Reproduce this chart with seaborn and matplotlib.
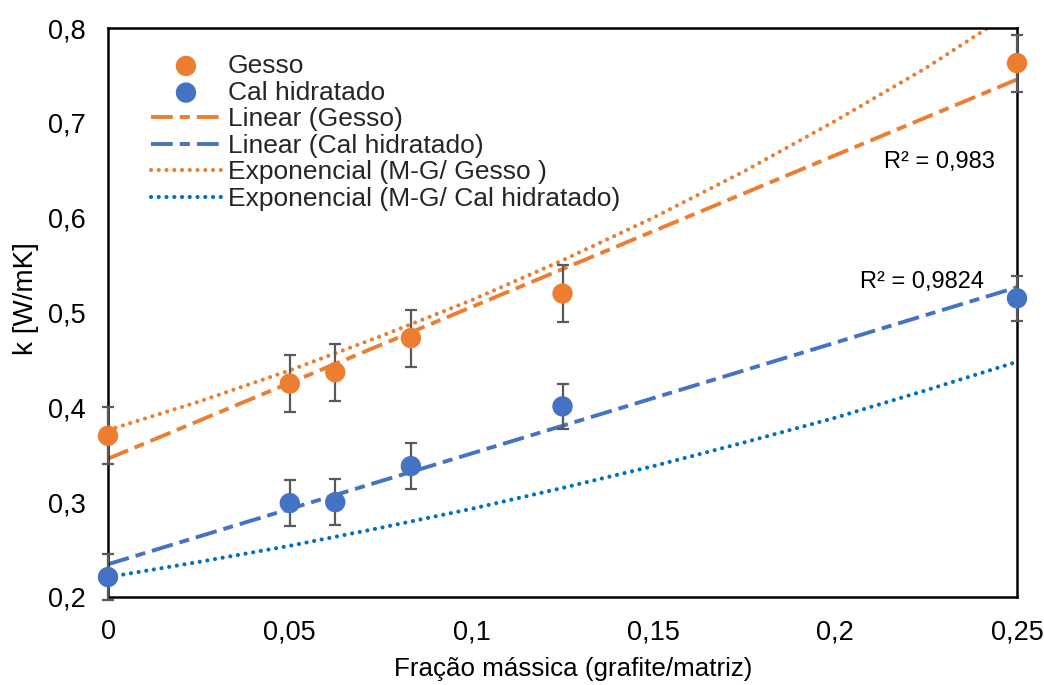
import numpy as np
import pandas as pd
import matplotlib
matplotlib.use("Agg")
import matplotlib.pyplot as plt
import seaborn as sns

# ---------------- data ----------------
frac = [0.0, 0.05, 0.0625, 0.0833, 0.125, 0.25]
k_gesso = [0.370, 0.425, 0.437, 0.473, 0.520, 0.763]
k_cal = [0.221, 0.299, 0.300, 0.338, 0.401, 0.515]
err_gesso = [0.030, 0.030, 0.030, 0.030, 0.030, 0.030]
err_cal = [0.024, 0.024, 0.024, 0.024, 0.024, 0.024]

# Exponential (Maxwell-Garnett) curves
mg_x = [0.0, 0.025, 0.05, 0.075, 0.1, 0.125, 0.15, 0.175, 0.2, 0.225, 0.25]
mg_gesso = [0.376, 0.406, 0.439, 0.475, 0.513, 0.555, 0.600, 0.649, 0.702, 0.758, 0.820]
mg_cal = [0.221, 0.237, 0.254, 0.273, 0.293, 0.315, 0.338, 0.363, 0.389, 0.418, 0.448]

r2_labels = ["R² = 0,983", "R² = 0,9824"]
legend_labels = ["Gesso", "Cal hidratado", "Linear (Gesso)", "Linear (Cal hidratado)",
                 "Exponencial (M-G/ Gesso )", "Exponencial (M-G/ Cal hidratado)"]
xticks = [0, 0.05, 0.1, 0.15, 0.2, 0.25]
xtick_labels = ["0", "0,05", "0,1", "0,15", "0,2", "0,25"]
yticks = [0.2, 0.3, 0.4, 0.5, 0.6, 0.7, 0.8]
ytick_labels = ["0,2", "0,3", "0,4", "0,5", "0,6", "0,7", "0,8"]

ORANGE = "#ED7D31"
BLUE = "#4472C4"
DBLUE = "#0070C0"
GRAY = "#595959"

sns.set_theme(style="white")
plt.rcParams["font.family"] = ["Liberation Sans", "DejaVu Sans"]

fig = plt.figure(figsize=(10.44, 6.85), dpi=100)
ax = fig.add_axes([108 / 1044, 1 - 597 / 685, (1017 - 108) / 1044, (597 - 28) / 685])

df = pd.DataFrame({"x": frac, "gesso": k_gesso, "cal": k_cal})

# linear trendlines (least squares from data)
xl = np.array([0.0, 0.25])
pg = np.polyfit(frac, k_gesso, 1)
pc = np.polyfit(frac, k_cal, 1)
lin_df = pd.DataFrame({"x": xl, "g": np.polyval(pg, xl), "c": np.polyval(pc, xl)})

LW = 2.8
LWD = 3.0
dash_pat = (0, (5.6, 1.8, 2.6, 1.8))
dot_pat = (0, (0.01, 1.85))

sns.lineplot(data=lin_df, x="x", y="g", ax=ax, color=ORANGE, lw=LW, label=legend_labels[2])
sns.lineplot(data=lin_df, x="x", y="c", ax=ax, color=BLUE, lw=LW, label=legend_labels[3])
mg_df = pd.DataFrame({"x": mg_x, "g": mg_gesso, "c": mg_cal})
sns.lineplot(data=mg_df, x="x", y="g", ax=ax, color=ORANGE, lw=LWD, label=legend_labels[4])
sns.lineplot(data=mg_df, x="x", y="c", ax=ax, color=DBLUE, lw=LWD, label=legend_labels[5])
lines = ax.get_lines()
for i, ln in enumerate(lines[:4]):
    if i < 2:
        ln.set_linestyle(dash_pat)
        ln.set_dash_capstyle("butt")
    else:
        ln.set_linestyle(dot_pat)
        ln.set_dash_capstyle("round")

# error bars
ax.errorbar(frac, k_gesso, yerr=err_gesso, fmt="none", ecolor=GRAY, elinewidth=1.6,
            capsize=4.5, capthick=1.6, clip_on=False, zorder=3)
ax.errorbar(frac, k_cal, yerr=err_cal, fmt="none", ecolor=GRAY, elinewidth=1.6,
            capsize=4.5, capthick=1.6, clip_on=False, zorder=3)

sns.scatterplot(data=df, x="x", y="gesso", ax=ax, color=ORANGE, s=215, edgecolor="none",
                label=legend_labels[0], clip_on=False, zorder=4)
sns.scatterplot(data=df, x="x", y="cal", ax=ax, color=BLUE, s=215, edgecolor="none",
                label=legend_labels[1], clip_on=False, zorder=4)

ax.set_xlim(0, 0.25)
ax.set_ylim(0.2, 0.8)
ax.set_xticks(xticks)
ax.set_xticklabels(xtick_labels)
ax.set_yticks(yticks)
ax.set_yticklabels(ytick_labels)
ax.tick_params(axis="both", length=0, labelsize=19.5, colors="black", pad=16)
ax.set_xlabel("Fração mássica (grafite/matriz)", fontsize=18.7, color="black")
ax.set_ylabel("k [W/mK]", fontsize=20, color="black")
ax.xaxis.set_label_coords(0.5116, -0.105)
ax.yaxis.set_label_coords(-0.0760, 0.525)
for sp in ax.spines.values():
    sp.set_visible(True)
    sp.set_color("black")
    sp.set_linewidth(1.8)

ax.text(0.2440, 0.6585, r2_labels[0], fontsize=17, ha="right", va="center", color="black")
ax.text(0.2409, 0.532, r2_labels[1], fontsize=17, ha="right", va="center", color="black")

handles, labels = ax.get_legend_handles_labels()
order = [labels.index(l) for l in legend_labels]
leg = ax.legend([handles[i] for i in order], [labels[i] for i in order],
                loc="upper left", bbox_to_anchor=(0.0473, 0.9545), frameon=False,
                fontsize=19, handlelength=2.65, handletextpad=0.27, labelspacing=0.1,
                borderpad=0, borderaxespad=0)

fig.savefig("out.png", dpi=100)
